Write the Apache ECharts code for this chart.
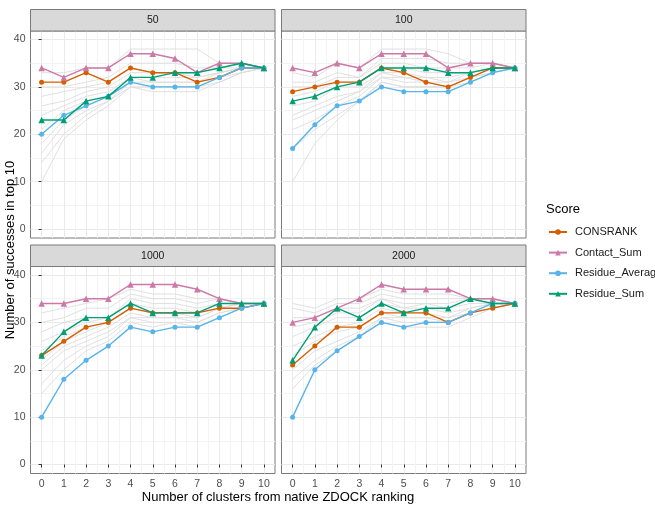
<!DOCTYPE html>
<html><head><meta charset="utf-8">
<script src="https://cdn.jsdelivr.net/npm/echarts@6/dist/echarts.min.js"></script>
<style>html,body{margin:0;padding:0;background:#fff}#c{width:655px;height:506px}</style>
</head><body><div id="c"></div><script>
// ---------------- DATA ----------------
const xValues = [0,1,2,3,4,5,6,7,8,9,10];
const panelLabels = ['50','100','1000','2000'];
const scoreNames = ['CONSRANK','Contact_Sum','Residue_Average','Residue_Sum'];
const xTickValues = [0,1,2,3,4,5,6,7,8,9,10];
const yTickValues = [0,10,20,30,40];

// panel 50
const consrank50 = [31,31,33,31,34,33,33,31,32,34,34];
const contact50  = [34,32,34,34,37,37,36,33,35,35,34];
const resAvg50   = [20,24,26,28,31,30,30,30,32,34,34];
const resSum50   = [23,23,27,28,32,32,33,33,34,35,34];
// panel 100
const consrank100 = [29,30,31,31,34,33,31,30,32,34,34];
const contact100  = [34,33,35,34,37,37,37,34,35,35,34];
const resAvg100   = [17,22,26,27,30,29,29,29,31,33,34];
const resSum100   = [27,28,30,31,34,34,34,33,33,34,34];
// panel 1000
const consrank1000 = [23,26,29,30,33,32,32,32,33,33,34];
const contact1000  = [34,34,35,35,38,38,38,37,35,34,34];
const resAvg1000   = [10,18,22,25,29,28,29,29,31,33,34];
const resSum1000   = [23,28,31,31,34,32,32,32,34,34,34];
// panel 2000
const consrank2000 = [21,25,29,29,32,32,32,30,32,33,34];
const contact2000  = [30,31,33,35,38,37,37,37,35,35,34];
const resAvg2000   = [10,20,24,27,30,29,30,30,32,34,34];
const resSum2000   = [22,29,33,31,34,32,33,33,35,34,34];

// grey background lines (other combinations)
const grey50 = [
  [10,19,23,26,30,29,29,29,31,33,34],
  [14,20,24,27,30,30,30,30,31,33,34],
  [16,22,25,27,31,30,30,30,32,33,34],
  [18,23,26,28,31,31,31,31,32,34,34],
  [21,25,27,28,32,31,31,31,33,34,34],
  [24,26,28,29,32,32,32,32,33,34,34],
  [26,27,29,30,33,33,33,32,33,34,34],
  [28,29,30,31,34,33,33,33,34,34,34],
  [30,30,31,32,35,35,35,34,34,35,34],
  [33,33,34,34,38,38,38,38,35,35,34]
];
const grey100 = [
  [10,18,23,27,31,30,30,30,31,33,34],
  [17,21,24,27,31,30,30,30,32,33,34],
  [21,23,26,28,32,31,31,30,32,33,34],
  [23,25,27,29,32,32,31,31,32,34,34],
  [24,26,28,29,33,32,32,31,33,34,34],
  [26,27,30,30,33,33,32,32,33,34,34],
  [28,29,31,31,34,34,33,33,33,34,34],
  [30,30,32,32,35,35,34,34,34,35,34],
  [31,31,33,32,36,36,36,35,35,35,34],
  [33,32,35,34,38,38,38,37,35,35,34]
];
const grey1000 = [
  [15,20,24,26,30,29,30,29,31,33,34],
  [17,22,25,27,31,30,30,30,32,33,34],
  [20,24,26,28,31,31,31,30,32,33,34],
  [21,25,27,29,32,31,31,31,33,34,34],
  [22,26,28,30,33,32,32,31,33,34,34],
  [24,27,29,30,33,32,32,32,33,34,34],
  [26,28,30,31,34,33,33,32,34,34,34],
  [28,30,31,31,35,34,34,33,34,34,34],
  [30,31,33,33,36,35,35,34,35,34,34],
  [32,33,34,35,37,36,36,35,35,34,34]
];
const grey2000 = [
  [16,21,24,27,30,29,29,29,31,33,34],
  [18,22,25,27,31,30,30,30,32,33,34],
  [20,24,26,28,31,31,31,30,32,33,34],
  [23,26,28,29,32,31,31,31,32,34,34],
  [25,27,29,30,33,32,32,31,33,34,34],
  [27,29,31,31,34,33,33,32,33,34,34],
  [29,30,32,32,35,33,34,33,34,34,34],
  [31,31,33,33,35,34,34,34,35,35,34],
  [33,32,34,34,36,35,35,35,35,35,34],
  [34,33,35,35,37,36,36,36,35,35,34]
];

const panelScores = [
  [consrank50, contact50, resAvg50, resSum50],
  [consrank100, contact100, resAvg100, resSum100],
  [consrank1000, contact1000, resAvg1000, resSum1000],
  [consrank2000, contact2000, resAvg2000, resSum2000]
];
const panelGreys = [grey50, grey100, grey1000, grey2000];

// ---------------- STYLE / LAYOUT ----------------
const scoreColors = ['#D55E00','#CC79A7','#56B4E9','#009E73'];
const scoreSymbols = ['circle','triangle','circle','triangle'];
const scoreSymbolSizes = [5,6.5,5,6.5];
const FONT = '"Liberation Sans", Arial, Helvetica, sans-serif';
const PX = [30.5, 281.5], PW = 244.5;
const PY = [31, 266.5], PH = 207;
const STRIP_H = 21.5;
const X_MIN = -0.5, X_MAX = 10.5, Y_MIN = -1.9, Y_MAX = 41.8;

const xGridValues = []; for (let v = 0; v <= 10; v += 0.5) xGridValues.push(v);
const yGridValues = []; for (let v = 0; v <= 40; v += 5) yGridValues.push(v);

const grids = [], xAxes = [], yAxes = [], series = [], graphics = [];
for (let i = 0; i < 4; i++) {
  const col = i % 2, row = Math.floor(i / 2);
  grids.push({left: PX[col], top: PY[row], width: PW, height: PH, show: true,
    backgroundColor: '#fff', borderColor: '#7a7a7a', borderWidth: 1, containLabel: false});
  // grid-line axis
  xAxes.push({type: 'value', gridIndex: i, min: X_MIN, max: X_MAX, position: 'bottom',
    axisLine: {show: false}, axisTick: {show: false, customValues: xGridValues},
    axisLabel: {show: false}, splitLine: {show: true, lineStyle: {color: ['#EAEAEA', '#F3F3F3'], width: 1}}});
  // tick/label axis
  xAxes.push({type: 'value', gridIndex: i, min: X_MIN, max: X_MAX, position: 'bottom', show: row === 1,
    axisLine: {show: false},
    axisTick: {show: true, customValues: xTickValues, length: 3, lineStyle: {color: '#333', width: 1}},
    axisLabel: {show: true, customValues: xTickValues, color: '#4D4D4D', fontSize: 10.5, fontFamily: FONT, margin: 5},
    splitLine: {show: false}});
  yAxes.push({type: 'value', gridIndex: i, min: Y_MIN, max: Y_MAX, position: 'left',
    axisLine: {show: false}, axisTick: {show: false, customValues: yGridValues},
    axisLabel: {show: false}, splitLine: {show: true, lineStyle: {color: ['#EAEAEA', '#F3F3F3'], width: 1}}});
  yAxes.push({type: 'value', gridIndex: i, min: Y_MIN, max: Y_MAX, position: 'left', show: col === 0,
    axisLine: {show: false},
    axisTick: {show: true, customValues: yTickValues, length: 3, lineStyle: {color: '#333', width: 1}},
    axisLabel: {show: true, customValues: yTickValues, color: '#4D4D4D', fontSize: 10.5, fontFamily: FONT, margin: 5},
    splitLine: {show: false}});

  panelGreys[i].forEach((arr, k) => {
    series.push({type: 'line', name: 'other' + k, xAxisIndex: 2 * i, yAxisIndex: 2 * i,
      data: xValues.map((x, j) => [x, arr[j]]), showSymbol: false, symbol: 'none',
      lineStyle: {color: '#DCDCDC', width: 0.9}, silent: true, z: 1, legendHoverLink: false});
  });
  panelScores[i].forEach((arr, s) => {
    series.push({type: 'line', name: scoreNames[s], xAxisIndex: 2 * i, yAxisIndex: 2 * i,
      data: xValues.map((x, j) => [x, arr[j]]),
      symbol: scoreSymbols[s], symbolSize: scoreSymbolSizes[s], showSymbol: true,
      itemStyle: {color: scoreColors[s]}, lineStyle: {color: scoreColors[s], width: 1.4},
      z: 3 + s});
  });

  graphics.push({type: 'rect', shape: {x: PX[col], y: PY[row] - STRIP_H, width: PW, height: STRIP_H},
    style: {fill: '#D9D9D9', stroke: '#7a7a7a', lineWidth: 1}, z: 10});
  graphics.push({type: 'text', x: PX[col] + PW / 2, y: PY[row] - STRIP_H / 2,
    style: {text: panelLabels[i], align: 'center', verticalAlign: 'middle', fill: '#1A1A1A', font: '10.5px ' + FONT}, z: 11});
}
graphics.push({type: 'text', x: 10, y: 250, rotation: Math.PI / 2,
  style: {text: 'Number of successes in top 10', align: 'center', verticalAlign: 'middle', fill: '#000', font: '13px ' + FONT}});
graphics.push({type: 'text', x: 278, y: 497,
  style: {text: 'Number of clusters from native ZDOCK ranking', align: 'center', verticalAlign: 'middle', fill: '#000', font: '13px ' + FONT}});
graphics.push({type: 'text', x: 546, y: 209,
  style: {text: 'Score', align: 'left', verticalAlign: 'middle', fill: '#000', font: '13px ' + FONT}});

const chart = echarts.init(document.getElementById('c'), null, {renderer: 'canvas'});
chart.setOption({
  animation: false,
  backgroundColor: '#fff',
  grid: grids, xAxis: xAxes, yAxis: yAxes, series: series, graphic: graphics,
  legend: {data: scoreNames, orient: 'vertical', left: 548, top: 226.5, padding: 0, itemWidth: 18, itemHeight: 7,
    itemGap: 9.6, textStyle: {fontSize: 11, color: '#1A1A1A', fontFamily: FONT, padding: [0, 0, 0, 3]}, selectedMode: false}
});
</script></body></html>
